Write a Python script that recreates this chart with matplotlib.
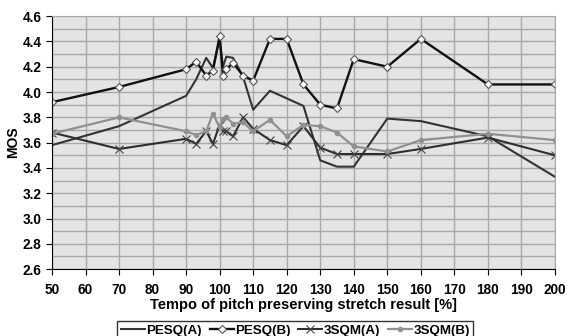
import matplotlib
matplotlib.use("Agg")
import matplotlib.pyplot as plt
import numpy as np

# tempo [%] at which every series was measured
tempo = [50, 70, 90, 93, 96, 98, 100, 101, 102, 104, 107, 110, 115, 120,
         125, 130, 135, 140, 150, 160, 180, 200]

pesq_a = [3.58, 3.73, 3.97, 4.10, 4.27, 4.19, 4.42, 4.20, 4.28, 4.27, 4.12,
          3.86, 4.01, 3.95, 3.89, 3.46, 3.41, 3.41, 3.79, 3.77, 3.65, 3.33]
pesq_b = [3.92, 4.04, 4.18, 4.24, 4.13, 4.17, 4.44, 4.13, 4.18, 4.23, 4.13,
          4.09, 4.42, 4.42, 4.06, 3.90, 3.87, 4.26, 4.20, 4.42, 4.06, 4.06]
sqm_a = [3.68, 3.55, 3.63, 3.59, 3.69, 3.59, 3.74, 3.69, 3.69, 3.65, 3.80,
         3.71, 3.62, 3.58, 3.73, 3.56, 3.51, 3.51, 3.51, 3.55, 3.64, 3.50]
sqm_b = [3.67, 3.80, 3.69, 3.66, 3.69, 3.83, 3.72, 3.79, 3.80, 3.75, 3.76,
         3.69, 3.78, 3.65, 3.74, 3.73, 3.68, 3.57, 3.53, 3.62, 3.67, 3.62]

plt.rcParams['font.family'] = ['Liberation Sans', 'DejaVu Sans']

fig = plt.figure(figsize=(5.68, 3.36), dpi=100)
ax = fig.add_axes([0.0915, 0.199, 0.8855, 0.753])
ax.set_facecolor('#e4e4e4')

ax.plot(tempo, pesq_a, color='#333333', lw=1.5, label='PESQ(A)')
ax.plot(tempo, pesq_b, color='#111111', lw=1.7, marker='D', ms=4,
        mfc='white', mec='#555555', mew=0.8, label='PESQ(B)')
ax.plot(tempo, sqm_a, color='#2e2e2e', lw=1.5, marker='x', ms=6,
        mec='#444444', mew=0.8, label='3SQM(A)')
ax.plot(tempo, sqm_b, color='#909090', lw=1.6, marker='o', ms=3,
        mfc='#909090', mec='#909090', label='3SQM(B)')

ax.set_xlim(50, 200)
ax.set_ylim(2.6, 4.6)
ax.set_xticks(np.arange(50, 201, 10))
ax.set_yticks(np.arange(2.6, 4.61, 0.2))
ax.set_yticks(np.arange(2.7, 4.6, 0.2), minor=True)
ax.yaxis.set_major_formatter(matplotlib.ticker.FormatStrFormatter('%.1f'))
ax.grid(True, which='both', color='#a8a8a8', lw=1.0)
ax.set_axisbelow(True)
ax.tick_params(axis='y', which='minor', length=0)
ax.tick_params(axis='both', which='major', labelsize=9.8, length=4,
               direction='out', color='black')
ax.tick_params(axis='x', pad=6)
for lab in ax.get_xticklabels() + ax.get_yticklabels():
    lab.set_fontweight('bold')

for side in ['top', 'right']:
    ax.spines[side].set_color('#a8a8a8')
for side in ['left', 'bottom']:
    ax.spines[side].set_color('black')

ax.set_xlabel('Tempo of pitch preserving stretch result [%]', fontsize=10.5,
              fontweight='bold', labelpad=1)
ax.set_ylabel('MOS', fontsize=10, fontweight='bold', labelpad=2)

leg = fig.legend(loc='lower center', bbox_to_anchor=(0.52, -0.025), ncol=4,
                 fontsize=9.6, frameon=True, fancybox=False, edgecolor='black',
                 handlelength=1.8, handletextpad=0.1, columnspacing=0.6,
                 borderpad=0.25, borderaxespad=0.3)
leg.get_frame().set_linewidth(1.0)
for t in leg.get_texts():
    t.set_fontweight('bold')

fig.savefig('out.png', dpi=100)
